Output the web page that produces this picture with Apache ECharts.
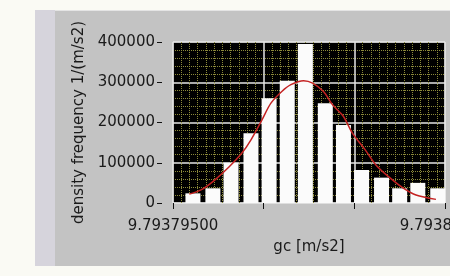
<!DOCTYPE html>
<html>
<head>
<meta charset="utf-8">
<script src="https://cdn.jsdelivr.net/npm/echarts@6/dist/echarts.min.js"></script>
<style>
  body { margin: 0; background: #fafaf4; }
  .wrap { position: relative; width: 450px; height: 276px; overflow: hidden; }
  .panel { position: absolute; left: 35px; top: 10px; width: 420px; height: 255px; background: #c3c3c3; border-top: 1px solid #e4e4e4; }
  .strip { position: absolute; left: 35px; top: 10px; width: 20px; height: 256px; background: #d6d4dc; }
  #chart { position: absolute; left: 0; top: 0; width: 450px; height: 276px; }
</style>
</head>
<body>
<div class="wrap">
  <div class="panel"></div>
  <div class="strip"></div>
  <div id="chart"></div>
</div>
<script>
// histogram bins (bin center, density)
const binCenters = [9.7937961, 9.7937972, 9.7937982, 9.7937993, 9.7938003, 9.7938013, 9.7938023,
  9.7938034, 9.7938044, 9.7938054, 9.7938065, 9.7938075, 9.7938085, 9.7938096]
const binValues = [24000, 36500, 100000, 173000, 260000, 304000, 395000,
  248000, 194000, 82000, 63000, 36500, 50000, 36500]

// fitted normal curve
const fitX = [9.7937959, 9.7937966, 9.7937973, 9.7937981, 9.7937988, 9.7937993, 9.7937999, 9.7938004,
  9.793801, 9.7938015, 9.7938022, 9.7938027, 9.7938033, 9.7938038, 9.7938044, 9.7938049,
  9.7938056, 9.7938062, 9.793807, 9.7938077, 9.7938084, 9.7938095]
const fitY = [22000, 34000, 57000, 90000, 124000, 157000, 206000, 248000,
  277000, 294000, 304000, 298000, 277000, 244000, 215000, 173000,
  132000, 94000, 61000, 37000, 20000, 9000]

// axis
const xMin = 9.793795
const xMax = 9.79381
const xStep = 0.000005
const yTicks = [0, 100000, 200000, 300000, 400000]

const font = 'DejaVu Sans'
const chart = echarts.init(document.getElementById('chart'))

const option = {
  animation: false,
  grid: {
    left: 173,
    right: 5,
    top: 42,
    bottom: 73,
    containLabel: false,
    outerBoundsMode: 'none',
    show: true,
    backgroundColor: '#000',
    borderColor: '#cfcfcf',
    borderWidth: 1
  },
  xAxis: {
    type: 'value',
    min: xMin,
    max: xMax,
    interval: xStep,
    offset: 4,
    name: 'gc [m/s2]',
    nameLocation: 'middle',
    nameGap: 33,
    nameTextStyle: { fontFamily: font, fontSize: 15, color: '#1a1a1a' },
    axisLine: { show: false },
    axisTick: { show: true, length: 6, lineStyle: { color: '#111' } },
    axisLabel: {
      margin: 12,
      fontFamily: font,
      fontSize: 15,
      color: '#1a1a1a',
      hideOverlap: false,
      showMinLabel: true,
      showMaxLabel: true,
      formatter: (v, i) => (i === 0 || Math.abs(v - xMax) < 1e-9) ? v.toFixed(8) : ''
    },
    splitLine: { show: true, lineStyle: { color: '#e6e6e6', width: 1.5 } },
    minorTick: { show: false, splitNumber: 11 },
    minorSplitLine: { show: true, lineStyle: { color: '#8c8a3a', width: 1, type: 'dotted' } }
  },
  yAxis: {
    type: 'value',
    min: yTicks[0],
    max: yTicks[yTicks.length - 1],
    interval: yTicks[1] - yTicks[0],
    offset: 11,
    name: 'density frequency 1/(m/s2)',
    nameLocation: 'middle',
    nameGap: 68,
    nameTextStyle: { fontFamily: font, fontSize: 15, color: '#1a1a1a' },
    axisLine: { show: false },
    axisTick: { show: true, length: 5, lineStyle: { color: '#111' } },
    axisLabel: {
      margin: 7,
      fontFamily: font,
      fontSize: 15,
      color: '#1a1a1a',
      formatter: (v) => String(v)
    },
    splitLine: { show: true, lineStyle: { color: '#e6e6e6', width: 1.5 } },
    minorTick: { show: false, splitNumber: 5 },
    minorSplitLine: { show: true, lineStyle: { color: '#8c8a3a', width: 1, type: 'dotted' } }
  },
  series: [
    {
      type: 'bar',
      data: binCenters.map((x, i) => [x, binValues[i]]),
      barWidth: 15,
      itemStyle: { color: '#fbfbfb' },
      z: 3
    },
    {
      type: 'line',
      data: fitX.map((x, i) => [x, fitY[i]]),
      smooth: 0.3,
      showSymbol: false,
      lineStyle: { color: '#c42222', width: 1.5 },
      z: 4
    }
  ]
}

chart.setOption(option)
</script>
</body>
</html>
